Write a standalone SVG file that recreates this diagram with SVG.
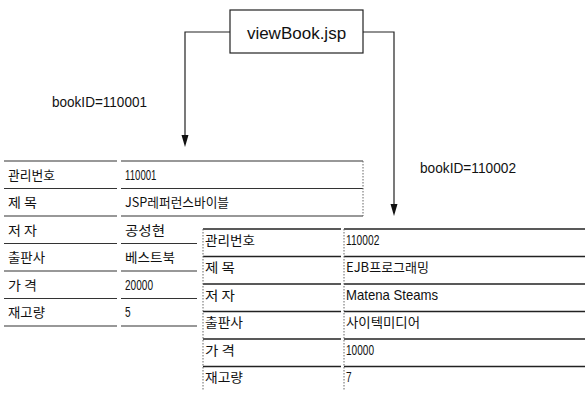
<svg xmlns="http://www.w3.org/2000/svg" width="585" height="394" viewBox="0 0 585 394">
<defs>
<style>
.bg{fill:#ffffff}
.box{fill:#ffffff;stroke:#222;stroke-width:1.2}
.conn{fill:none;stroke:#222;stroke-width:1.2}
.title{font-family:"Liberation Sans",Arial,sans-serif;font-size:17px;fill:#111}
.lbl{font-family:"Liberation Sans",Arial,sans-serif;font-size:14px;fill:#111}
.t{font-family:"Noto Sans CJK KR","Liberation Sans",sans-serif;font-size:13px;fill:#111}
.n{font-family:"Liberation Sans",Arial,sans-serif;font-size:14px;fill:#111}
.hl{stroke:#333;stroke-width:1.1}
.hl2{stroke:#222;stroke-width:1.4}
.vl{stroke:#666;stroke-width:1;stroke-dasharray:1.5 1.5}
</style>
</defs>
<rect class="bg" x="0" y="0" width="585" height="394"/>

<g id="connectors">
<polyline class="conn" points="230,32 185,32 185,135"/>
<polygon points="181.5,135 188.5,135 185,147" fill="#111"/>
<polyline class="conn" points="363,32 394,32 394,204"/>
<polygon points="390.5,204 397.5,204 394,216" fill="#111"/>
</g>

<g id="node-viewbook">
<rect class="box" x="230" y="10" width="133" height="43"/>
<text class="title" x="296.5" y="39" text-anchor="middle">viewBook.jsp</text>
</g>

<g id="label-bookid-1">
<text class="lbl" x="52" y="107" textLength="95" lengthAdjust="spacingAndGlyphs">bookID=110001</text>
</g>
<g id="label-bookid-2">
<text class="lbl" x="420" y="173" textLength="96" lengthAdjust="spacingAndGlyphs">bookID=110002</text>
</g>

<g id="node-table1">
<g class="hl">
<line x1="4" y1="161" x2="117" y2="161"/><line x1="121" y1="161" x2="363" y2="161"/>
<line x1="4" y1="188.5" x2="117" y2="188.5"/><line x1="121" y1="188.5" x2="363" y2="188.5"/>
<line x1="4" y1="216" x2="117" y2="216"/><line x1="121" y1="216" x2="363" y2="216"/>
<line x1="4" y1="243.5" x2="117" y2="243.5"/><line x1="121" y1="243.5" x2="363" y2="243.5"/>
<line x1="4" y1="271" x2="117" y2="271"/><line x1="121" y1="271" x2="363" y2="271"/>
<line x1="4" y1="298.5" x2="117" y2="298.5"/><line x1="121" y1="298.5" x2="363" y2="298.5"/>
<line x1="4" y1="326" x2="117" y2="326"/><line x1="121" y1="326" x2="363" y2="326"/>
</g>
<line class="vl" x1="363" y1="161" x2="363" y2="216"/>
<text class="t" x="8" y="180" textLength="47" lengthAdjust="spacingAndGlyphs">관리번호</text>
<text class="n" transform="translate(125 180) scale(0.69 1)">110001</text>
<text class="t" x="8" y="207" textLength="29" lengthAdjust="spacingAndGlyphs">제 목</text>
<text class="t" x="125" y="207" textLength="104" lengthAdjust="spacingAndGlyphs">JSP레퍼런스바이블</text>
<text class="t" x="8" y="235" textLength="29" lengthAdjust="spacingAndGlyphs">저 자</text>
<text class="t" x="125" y="235" textLength="40" lengthAdjust="spacingAndGlyphs">공성현</text>
<text class="t" x="8" y="262" textLength="37" lengthAdjust="spacingAndGlyphs">출판사</text>
<text class="t" x="125" y="262" textLength="50" lengthAdjust="spacingAndGlyphs">베스트북</text>
<text class="t" x="8" y="290" textLength="29" lengthAdjust="spacingAndGlyphs">가 격</text>
<text class="n" transform="translate(125 290) scale(0.72 1)">20000</text>
<text class="t" x="8" y="317" textLength="37" lengthAdjust="spacingAndGlyphs">재고량</text>
<text class="n" transform="translate(125 317) scale(0.72 1)">5</text>
</g>

<g id="node-table2">
<rect class="bg" x="197" y="218" width="388" height="176"/>
<g class="hl2">
<line x1="203" y1="229" x2="341" y2="229"/><line x1="344" y1="229" x2="585" y2="229"/>
<line x1="203" y1="256.5" x2="341" y2="256.5"/><line x1="344" y1="256.5" x2="585" y2="256.5"/>
<line x1="203" y1="284" x2="341" y2="284"/><line x1="344" y1="284" x2="585" y2="284"/>
<line x1="203" y1="311.5" x2="341" y2="311.5"/><line x1="344" y1="311.5" x2="585" y2="311.5"/>
<line x1="203" y1="339" x2="341" y2="339"/><line x1="344" y1="339" x2="585" y2="339"/>
<line x1="203" y1="366.5" x2="341" y2="366.5"/><line x1="344" y1="366.5" x2="585" y2="366.5"/>
</g>
<line class="vl" x1="203" y1="229" x2="203" y2="390"/>
<line class="vl" x1="344" y1="229" x2="344" y2="390"/>
<text class="t" x="205" y="245" textLength="50" lengthAdjust="spacingAndGlyphs">관리번호</text>
<text class="n" transform="translate(346 245) scale(0.73 1)">110002</text>
<text class="t" x="205" y="272" textLength="30" lengthAdjust="spacingAndGlyphs">제 목</text>
<text class="t" x="346" y="272" textLength="83" lengthAdjust="spacingAndGlyphs">EJB프로그래밍</text>
<text class="t" x="205" y="300" textLength="30" lengthAdjust="spacingAndGlyphs">저 자</text>
<text class="n" transform="translate(346 300) scale(0.94 1)">Matena Steams</text>
<text class="t" x="205" y="327" textLength="38" lengthAdjust="spacingAndGlyphs">출판사</text>
<text class="t" x="346" y="327" textLength="74" lengthAdjust="spacingAndGlyphs">사이텍미디어</text>
<text class="t" x="205" y="355" textLength="30" lengthAdjust="spacingAndGlyphs">가 격</text>
<text class="n" transform="translate(346 355) scale(0.72 1)">10000</text>
<text class="t" x="205" y="382" textLength="38" lengthAdjust="spacingAndGlyphs">재고량</text>
<text class="n" transform="translate(346 382) scale(0.72 1)">7</text>
</g>
</svg>
